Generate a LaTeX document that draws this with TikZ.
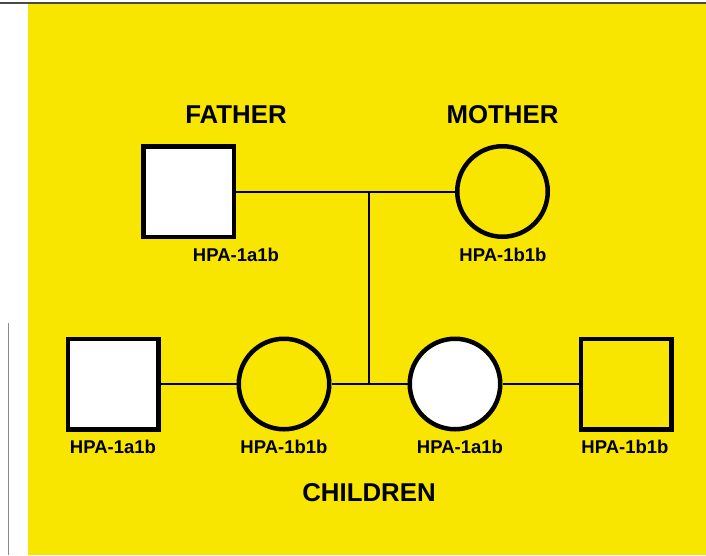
\documentclass[tikz,border=0pt]{standalone}
\usepackage{fontspec}
\setmainfont{Liberation Sans}
\definecolor{bgyellow}{HTML}{F8E600}
\definecolor{topline}{HTML}{4A4A4A}
\definecolor{sideline}{HTML}{8A8A8A}
\begin{document}
\begin{tikzpicture}[x=1pt,y=-1pt,
  person/.style={draw=black,line width=4.5pt,minimum size=90.5pt,inner sep=0pt},
  male/.style={person,rectangle},
  female/.style={person,circle},
  link/.style={draw=black,line width=2pt},
  title/.style={font=\fontsize{25.8}{25.8}\selectfont\bfseries,inner sep=0pt},
  geno/.style={font=\fontsize{18.5}{18.5}\selectfont\bfseries,inner sep=0pt}]
\useasboundingbox (0,0) rectangle (706,555);
\fill[bgyellow] (28,3.8) rectangle (706,555);
\draw[topline,line width=1.7pt] (0,2.8) -- (706,2.8);
\draw[sideline,line width=1pt] (8,323) -- (8,555);
% parents
\node[male,fill=white] (father) at (188.5,191.5) {};
\node[female] (mother) at (502.5,191.5) {};
\coordinate (mid) at (369,191.5);
\coordinate (sib) at (369,384);
\node[title] (tf) at (236,114.5) {FATHER};
\node[title] (tm) at (502.5,114.5) {MOTHER};
\node[geno] (gf) at (236,255) {HPA-1a1b};
\node[geno] (gm) at (503,254.5) {HPA-1b1b};
% children
\node[male,fill=white] (c1) at (113,384) {};
\node[female] (c2) at (284,384) {};
\node[female,fill=white] (c3) at (455,384) {};
\node[male] (c4) at (626,384) {};
\node[geno] (g1) at (113,447) {HPA-1a1b};
\node[geno] (g2) at (284,447) {HPA-1b1b};
\node[geno] (g3) at (460,447) {HPA-1a1b};
\node[geno] (g4) at (625,447) {HPA-1b1b};
\node[title] (tc) at (369,493) {CHILDREN};
% connectors
\draw[link] (father) -- (mother);
\draw[link] (mid) -- (sib);
\draw[link] (c1) -- (c2);
\draw[link] (c2) -- (c3);
\draw[link] (c3) -- (c4);
\end{tikzpicture}
\end{document}
